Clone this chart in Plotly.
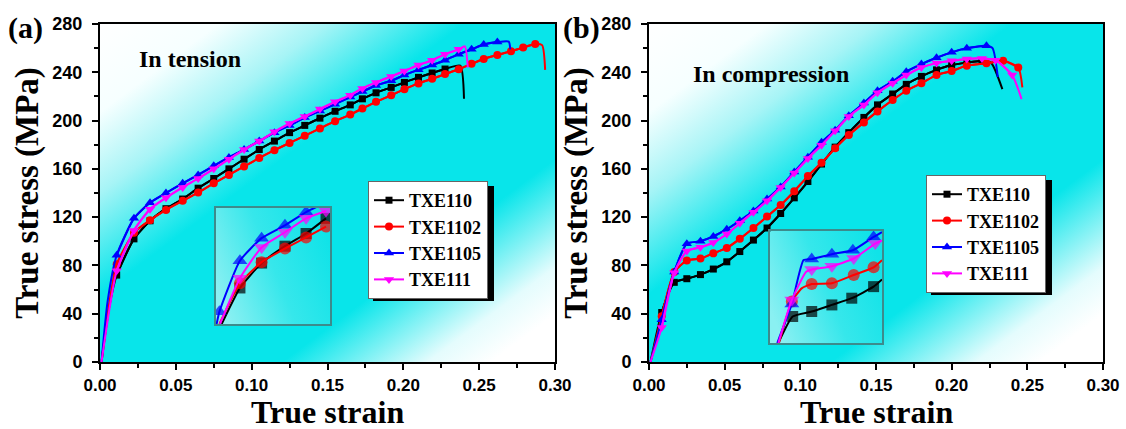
import base64
import plotly.graph_objects as go

# ---------------- data ----------------
# (a) In tension
ten_110_x = [0.001, 0.006, 0.011, 0.0224, 0.033, 0.0435, 0.0545, 0.0647, 0.075, 0.085, 0.095, 0.105, 0.115, 0.125, 0.135, 0.145, 0.155, 0.165, 0.173, 0.182, 0.192, 0.2007, 0.21, 0.219, 0.2275, 0.2375, 0.2400]
ten_110_y = [0, 45, 72, 102, 117, 127, 135, 144, 152, 160, 168, 176, 183, 190, 196, 202, 207.7, 213, 218, 223, 227.5, 231.6, 235.8, 239.4, 242.7, 245.5, 218]
ten_1102_x = [0.001, 0.006, 0.011, 0.0224, 0.033, 0.0435, 0.0545, 0.0647, 0.075, 0.085, 0.095, 0.105, 0.115, 0.125, 0.135, 0.145, 0.155, 0.165, 0.173, 0.182, 0.192, 0.2007, 0.21, 0.219, 0.2275, 0.2365, 0.245, 0.253, 0.262, 0.271, 0.279, 0.287, 0.2915, 0.2935]
ten_1102_y = [0, 48, 81, 107, 117.5, 126, 133.5, 140.4, 148, 155, 162, 169, 175.5, 181.5, 187.5, 193.5, 199.5, 205, 210, 215.5, 221, 226, 230.8, 234.6, 238.5, 242.5, 247, 251, 254.3, 257.4, 260.6, 263.4, 262.5, 242]
ten_1105_x = [0.001, 0.005, 0.011, 0.0224, 0.033, 0.0435, 0.0545, 0.0647, 0.075, 0.085, 0.095, 0.105, 0.115, 0.125, 0.135, 0.145, 0.155, 0.165, 0.173, 0.182, 0.192, 0.2007, 0.21, 0.219, 0.2275, 0.2365, 0.245, 0.253, 0.262, 0.2695, 0.2705]
ten_1105_y = [0, 50, 88.4, 119, 132, 140, 148, 155, 162.5, 169.5, 176, 183, 190, 196, 202.5, 208, 213.6, 219.5, 224, 229, 233, 237.7, 242, 246, 250, 255, 259, 263, 265, 265.4, 259]
ten_111_x = [0.001, 0.006, 0.011, 0.0224, 0.033, 0.0435, 0.0545, 0.0647, 0.075, 0.085, 0.095, 0.105, 0.115, 0.125, 0.135, 0.145, 0.155, 0.165, 0.173, 0.182, 0.192, 0.2007, 0.21, 0.219, 0.2275, 0.2365, 0.2405, 0.2425]
ten_111_y = [0, 42, 75.5, 109, 126.6, 136, 144.6, 152, 160, 168, 176, 183, 190.7, 197.6, 203.4, 209.5, 215.6, 221, 226.6, 231.6, 236.6, 241, 246, 250, 255, 259, 261.5, 244]

# (b) In compression
com_110_x = [0.001, 0.0084, 0.0167, 0.025, 0.034, 0.0425, 0.0514, 0.060, 0.069, 0.078, 0.087, 0.096, 0.105, 0.114, 0.123, 0.132, 0.142, 0.151, 0.161, 0.170, 0.180, 0.190, 0.200, 0.210, 0.220, 0.226, 0.2335]
com_110_y = [0, 41, 66, 69, 72.4, 77, 83, 91.5, 101, 111, 123, 136, 149.5, 164, 178, 190, 202.6, 213, 222, 230, 236.6, 242, 246, 248, 249.5, 248, 226]
com_1102_x = [0.001, 0.0084, 0.0167, 0.025, 0.034, 0.0425, 0.0514, 0.060, 0.069, 0.078, 0.087, 0.096, 0.105, 0.114, 0.123, 0.132, 0.142, 0.151, 0.161, 0.170, 0.180, 0.190, 0.200, 0.210, 0.223, 0.234, 0.244, 0.2467]
com_1102_y = [0, 38, 74.6, 84, 85.7, 90, 94.5, 102, 111, 120.5, 130, 141.5, 154, 165, 177, 188, 198.5, 207.6, 217, 224.7, 231, 237.7, 241, 245.5, 247.4, 249.6, 244, 227.5]
com_1105_x = [0.001, 0.0084, 0.0167, 0.025, 0.034, 0.0425, 0.0514, 0.060, 0.069, 0.078, 0.087, 0.096, 0.105, 0.114, 0.123, 0.132, 0.142, 0.151, 0.161, 0.170, 0.180, 0.190, 0.200, 0.210, 0.223, 0.227, 0.2305]
com_1105_y = [0, 35, 74.6, 98, 100, 104, 110, 117, 125, 135, 145, 157.5, 169.7, 182, 192, 204, 214.5, 224.7, 232.5, 240.5, 246.8, 252, 256.5, 260, 262, 260, 236]
com_111_x = [0.001, 0.0084, 0.0167, 0.025, 0.034, 0.0425, 0.0514, 0.060, 0.069, 0.078, 0.087, 0.096, 0.105, 0.114, 0.123, 0.132, 0.142, 0.151, 0.161, 0.170, 0.180, 0.190, 0.200, 0.210, 0.220, 0.229, 0.240, 0.2462]
com_111_y = [0, 28.5, 74, 92, 95, 99, 106, 115, 124, 133.5, 144.5, 156.5, 168.6, 179.6, 191.5, 203.4, 213, 223, 231, 237.7, 244, 247.6, 249.6, 251, 251.5, 250, 237.7, 217.8]

# inset of (a): magnified yield region
ins_t_110_x = [0.010, 0.0164, 0.024, 0.0322, 0.0396, 0.0466]
ins_t_110_y = [60, 83.3, 99.4, 110.3, 118.5, 128.3]
ins_t_1102_x = [0.0092, 0.0164, 0.024, 0.0322, 0.0396, 0.0466]
ins_t_1102_y = [60, 86.3, 100, 108.8, 116, 123]
ins_t_1105_x = [0.0080, 0.0092, 0.0164, 0.024, 0.0322, 0.0396, 0.0466]
ins_t_1105_y = [58, 68, 100.9, 115.5, 123.8, 132.4, 138.5]
ins_t_111_x = [0.0094, 0.0164, 0.024, 0.0322, 0.0396, 0.0466]
ins_t_111_y = [60, 89.6, 109.5, 119.3, 128.3, 133.1]

# inset of (b): magnified yield plateau
ins_c_110_x = [0.008, 0.0131, 0.0199, 0.0271, 0.0342, 0.042, 0.045]
ins_c_110_y = [30, 51.3, 55.3, 60.6, 66, 75.3, 81.1]
ins_c_1102_x = [0.0082, 0.0128, 0.0163, 0.0199, 0.0271, 0.0349, 0.042, 0.045]
ins_c_1102_y = [30, 63.3, 73.9, 77.4, 78, 84.6, 90.8, 96.6]
ins_c_1105_x = [0.0076, 0.0128, 0.017, 0.0199, 0.0271, 0.0346, 0.042, 0.045]
ins_c_1105_y = [30, 61.4, 96.6, 97.4, 101.4, 104.5, 115.2, 119.2]
ins_c_111_x = [0.008, 0.0128, 0.0179, 0.0199, 0.0271, 0.0349, 0.0426, 0.045]
ins_c_111_y = [30, 64.6, 87.2, 89.1, 91.7, 97.9, 109.9, 112.5]

names = ["TXE110", "TXE1102", "TXE1105", "TXE111"]
x_ticks = [0.00, 0.05, 0.10, 0.15, 0.20, 0.25, 0.30]
y_ticks = [0, 40, 80, 120, 160, 200, 240, 280]

# ---------------- style ----------------
W, H = 1126, 429
colors = ["#000000", "#ff0000", "#0000ff", "#ff00ff"]
symbols = ["square", "circle", "triangle-up", "triangle-down"]
msizes = [7, 8, 9, 9]
inset_msizes = [11, 12, 13, 13]
SERIF = "Liberation Serif, Times New Roman, serif"
SANS = "Liberation Sans, Arial, sans-serif"


def px_x(p):
    return p / W


def px_y(p):
    return 1 - p / H


def grad_uri(stops, x1, y1, x2, y2):
    st = "".join('<stop offset="%s" stop-color="%s"/>' % (o, c) for o, c in stops)
    svg = ('<svg xmlns="http://www.w3.org/2000/svg" width="200" height="200" viewBox="0 0 200 200" '
           'preserveAspectRatio="none"><defs><linearGradient id="g" x1="%s" y1="%s" x2="%s" y2="%s">%s'
           '</linearGradient></defs><rect x="0" y="0" width="200" height="200" fill="url(#g)"/></svg>'
           % (x1, y1, x2, y2, st))
    return "data:image/svg+xml;base64," + base64.b64encode(svg.encode()).decode()


main_stops = [(0, "#ffffff"), (0.13, "#f6ffff"), (0.25, "#a6f4f6"), (0.40, "#08e5ea"),
              (0.70, "#08e5ea"), (0.86, "#e4fcfd"), (0.93, "#ffffff"), (1, "#ffffff")]
inset_stops = [(0, "#8af0f2"), (0.5, "#36e7eb"), (1, "#10e3e8")]

# domains (pixels -> paper)
L_X = [px_x(100), px_x(555)]
R_X = [px_x(649), px_x(1103)]
MAIN_Y = [px_y(362), px_y(24)]
LI_X = [px_x(216), px_x(330)]
LI_Y = [px_y(324), px_y(208)]
RI_X = [px_x(770), px_x(882)]
RI_Y = [px_y(343), px_y(231)]

# legend boxes (left, top, width, height) in pixels
LEG_A = (368, 181, 121, 115)
LEG_B = (926, 175, 121, 115)

fig = go.Figure()


def add_main(x, y, i, xa, ya, legend, head, tail):
    ln = dict(color=colors[i], width=2, shape="spline", smoothing=0.6)
    fig.add_trace(go.Scatter(x=x, y=y, mode="lines", line=ln, xaxis=xa, yaxis=ya,
                             showlegend=False, hoverinfo="skip"))
    fig.add_trace(go.Scatter(x=x[head:len(x) - tail], y=y[head:len(y) - tail], mode="lines+markers",
                             name=names[i], line=ln,
                             marker=dict(symbol=symbols[i], size=msizes[i], color=colors[i], line=dict(width=0)),
                             xaxis=xa, yaxis=ya, legend=legend))


def add_inset(x, y, i, xa, ya, hidden):
    sizes = [0 if k in hidden else inset_msizes[i] for k in range(len(x))]
    fig.add_trace(go.Scatter(x=x, y=y, mode="lines+markers",
                             line=dict(color=colors[i], width=2, shape="spline", smoothing=0.5),
                             marker=dict(symbol=symbols[i], size=sizes, color=colors[i], line=dict(width=0)),
                             xaxis=xa, yaxis=ya, showlegend=False, hoverinfo="skip"))


ten = [(ten_110_x, ten_110_y, 2, 2), (ten_1102_x, ten_1102_y, 2, 2),
       (ten_1105_x, ten_1105_y, 2, 2), (ten_111_x, ten_111_y, 2, 2)]
com = [(com_110_x, com_110_y, 1, 2), (com_1102_x, com_1102_y, 1, 1),
       (com_1105_x, com_1105_y, 1, 2), (com_111_x, com_111_y, 1, 1)]
for i, (x, y, h, t) in enumerate(ten):
    add_main(x, y, i, "x", "y", "legend", h, t)
for i, (x, y, h, t) in enumerate(com):
    add_main(x, y, i, "x2", "y2", "legend2", h, t)

ins_t = [(ins_t_110_x, ins_t_110_y, [0]), (ins_t_1102_x, ins_t_1102_y, [0]),
         (ins_t_1105_x, ins_t_1105_y, [0]), (ins_t_111_x, ins_t_111_y, [0])]
ins_c = [(ins_c_110_x, ins_c_110_y, [0, 6]), (ins_c_1102_x, ins_c_1102_y, [0, 2, 7]),
         (ins_c_1105_x, ins_c_1105_y, [0, 2, 7]), (ins_c_111_x, ins_c_111_y, [0, 2, 7])]
for i, (x, y, hid) in enumerate(ins_t):
    add_inset(x, y, i, "x3", "y3", hid)
for i, (x, y, hid) in enumerate(ins_c):
    add_inset(x, y, i, "x4", "y4", hid)

xtickfont = dict(family=SANS, size=17, color="black", weight="bold")
ytickfont = dict(family=SANS, size=18, color="black", weight="bold")
ytitlefont = dict(family=SERIF, size=33, color="black", weight="bold")


def main_x(domain, anchor):
    return dict(domain=domain, anchor=anchor, range=[0, 0.30], tickvals=x_ticks,
                ticktext=["%.2f" % v for v in x_ticks], ticks="outside", ticklen=6, tickwidth=2,
                tickcolor="black", minor=dict(ticks="outside", ticklen=4, tickwidth=1.5, tickcolor="black",
                                              dtick=0.025, tick0=0),
                showline=True, linewidth=2, linecolor="black", mirror=True, showgrid=False,
                zeroline=False, tickfont=xtickfont, ticklabelstandoff=1, automargin=False)


def main_y(domain, anchor):
    return dict(domain=domain, anchor=anchor, range=[0, 280], tickvals=y_ticks,
                ticks="outside", ticklen=6, tickwidth=2, tickcolor="black",
                minor=dict(ticks="outside", ticklen=4, tickwidth=1.5, tickcolor="black", dtick=20, tick0=0),
                showline=True, linewidth=2, linecolor="black", mirror=True, showgrid=False,
                zeroline=False, tickfont=ytickfont, ticklabelstandoff=6, automargin=False,
                title=dict(text="True stress (MPa)", font=ytitlefont, standoff=4))


def inset_ax(domain, anchor, rng):
    return dict(domain=domain, anchor=anchor, range=rng, showticklabels=False, ticks="",
                showline=True, linewidth=1.5, linecolor="#3d8b8c", mirror=True, showgrid=False,
                zeroline=False, automargin=False)


legend_common = dict(xanchor="left", yanchor="top", bgcolor="white", bordercolor="#666666", borderwidth=1,
                     font=dict(family=SERIF, size=18, color="black", weight="bold"), tracegroupgap=0)


def shadow(box):
    l, t, w, h = box
    return dict(type="rect", xref="paper", yref="paper", x0=px_x(l + 5), x1=px_x(l + w + 5),
                y0=px_y(t + h + 5), y1=px_y(t + 5), fillcolor="black", line=dict(width=0), layer="above")


def img(stops, dom_x, dom_y, direction):
    x1, y1, x2, y2 = direction
    return dict(source=grad_uri(stops, x1, y1, x2, y2), xref="paper", yref="paper", x=dom_x[0], y=dom_y[1],
                sizex=dom_x[1] - dom_x[0], sizey=dom_y[1] - dom_y[0], sizing="stretch", xanchor="left",
                yanchor="top", layer="below")


def label(text, px, py, size, yanchor="middle"):
    return dict(text=text, x=px_x(px), y=px_y(py), xref="paper", yref="paper", showarrow=False,
                xanchor="center", yanchor=yanchor,
                font=dict(family=SERIF, size=size, color="black", weight="bold"))


fig.update_layout(
    width=W, height=H, margin=dict(l=0, r=0, t=0, b=0, autoexpand=False),
    paper_bgcolor="white", plot_bgcolor="rgba(0,0,0,0)",
    xaxis=main_x(L_X, "y"), yaxis=main_y(MAIN_Y, "x"),
    xaxis2=main_x(R_X, "y2"), yaxis2=main_y(MAIN_Y, "x2"),
    xaxis3=inset_ax(LI_X, "y3", [0.008, 0.048]), yaxis3=inset_ax(LI_Y, "x3", [60, 135]),
    xaxis4=inset_ax(RI_X, "y4", [0.005, 0.045]), yaxis4=inset_ax(RI_Y, "x4", [30, 120]),
    legend=dict(x=px_x(LEG_A[0]), y=px_y(LEG_A[1]), **legend_common),
    legend2=dict(x=px_x(LEG_B[0]), y=px_y(LEG_B[1]), **legend_common),
    showlegend=True,
    images=[
        img(main_stops, L_X, MAIN_Y, (0, 0, 1, 1)),
        img(main_stops, R_X, MAIN_Y, (0, 0, 1, 1)),
        img(inset_stops, LI_X, LI_Y, (0, 0.7, 1, 0.3)),
        img(inset_stops, RI_X, RI_Y, (0, 0.7, 1, 0.3)),
    ],
    shapes=[shadow(LEG_A), shadow(LEG_B)],
    annotations=[
        label("True strain", 327, 392, 32, "top"),
        label("True strain", 876, 392, 32, "top"),
        label("(a)", 25, 28, 30),
        label("(b)", 581, 28, 30),
        label("In tension", 190, 59, 24),
        label("In compression", 771, 74, 24),
    ],
)

fig.write_html("out.html")
